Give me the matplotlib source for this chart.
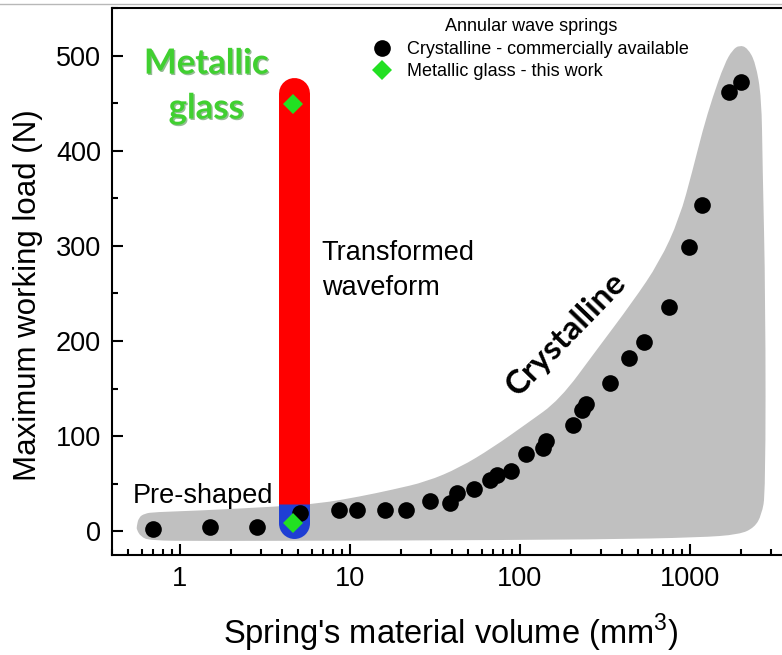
import numpy as np
import matplotlib
matplotlib.use("Agg")
import matplotlib.pyplot as plt
from matplotlib.lines import Line2D
from matplotlib.path import Path
from matplotlib.patches import PathPatch
from matplotlib.ticker import MultipleLocator, FuncFormatter, NullFormatter
import matplotlib.patheffects as pe

plt.rcParams['font.family'] = ['Liberation Sans', 'DejaVu Sans']
plt.rcParams['mathtext.fontset'] = 'custom'
plt.rcParams['mathtext.rm'] = 'Liberation Sans'

# commercially available crystalline annular wave springs
cryst_volume = [0.70, 1.5, 2.85, 5.08, 8.7, 11.0, 16.2, 21.5, 29.7, 39.0, 43.0, 54.0,
                66.6, 73.6, 89.4, 108.5, 138, 143, 206, 234, 247, 342, 440, 543,
                756, 991, 1188, 1718, 2014]
cryst_load = [2, 4.6, 4.6, 19.3, 22, 22.5, 22.5, 22.5, 32, 30, 40, 44.5,
              54, 59.5, 63, 81, 88, 95, 112, 127, 134, 156, 182, 199,
              236, 299, 343, 462, 472]

# metallic glass spring (pre-shaped and transformed waveform)
mg_volume = [4.65, 4.65]
mg_load = [8.8, 449.5]

# range bar of the metallic glass spring
bar_volume = 4.7
bar_top = 460.5
bar_split = 28.7
bar_bottom = 8.6

# grey envelope around the crystalline springs (outline control points)
env_volume = [0.559, 0.574, 0.622, 0.713, 1.311, 3.72, 6.66, 11.45, 17.9, 28.4, 44.4,
              69.4, 110, 172, 284, 462, 666, 873, 1041, 1193, 1366, 1607, 1790,
              1969, 2194, 2445, 2652, 2688, 2800, 2800, 2652, 2412, 1969, 1145,
              295, 19.7, 1.311, 0.666, 0.590, 0.559]
env_load = [4.9, 14.4, 18.6, 20.1, 21.7, 25.9, 29.1, 36.4, 43.7, 52.1, 66.8,
            87.8, 113, 138, 190.6, 241, 283, 329, 379, 421, 456, 491.5, 506,
            511, 508, 492.7, 456, 387, 243, 40, 17, 4.0, -3.5, -6.6,
            -8.7, -9.8, -10.3, -9.8, -5.6, 1.8]


def smooth_outline(xs, ys):
    # quadratic bezier through the mid points, built in log-x so it is smooth on screen
    lx = np.log10(xs)
    ys = np.asarray(ys, float)
    n = len(lx)
    mid = [((lx[i] + lx[(i + 1) % n]) / 2, (ys[i] + ys[(i + 1) % n]) / 2) for i in range(n)]
    verts = [mid[-1]]
    codes = [Path.MOVETO]
    for i in range(n):
        verts += [(lx[i], ys[i]), mid[i]]
        codes += [Path.CURVE3, Path.CURVE3]
    verts = np.array(verts)
    verts[:, 0] = 10 ** verts[:, 0]
    return Path(verts, codes)


fig = plt.figure(figsize=(7.82, 6.55), dpi=100)
ax = fig.add_axes([112 / 782, 100 / 655, 678 / 782, 547 / 655])

ax.add_patch(PathPatch(smooth_outline(env_volume, env_load), facecolor='#c0c0c0', lw=0, zorder=1))

bar_w = 22.3
ax.plot([bar_volume, bar_volume], [bar_top, bar_split], color='#ff0000', lw=bar_w,
        solid_capstyle='round', zorder=2)
ax.plot([bar_volume, bar_volume], [bar_split, bar_bottom], color='#1f3fd4', lw=bar_w,
        solid_capstyle='butt', zorder=3)
ax.plot([bar_volume], [bar_bottom], 'o', ms=bar_w, color='#1f3fd4', mew=0, zorder=3)

ax.plot(cryst_volume, cryst_load, 'o', ls='none', color='black', ms=12, mew=0, zorder=4,
        label='Crystalline - commercially available')
ax.plot(mg_volume, mg_load, 'D', ls='none', color='#22e022', ms=10.5, mew=0, zorder=5,
        label='Metallic glass - this work')

ax.set_xscale('log')
ax.set_xlim(0.4, 3900)
ax.set_ylim(-25, 550)
ax.yaxis.set_major_locator(MultipleLocator(100))
ax.yaxis.set_minor_locator(MultipleLocator(50))
ax.xaxis.set_major_formatter(FuncFormatter(lambda v, p: f'{v:g}'))
ax.xaxis.set_minor_formatter(NullFormatter())

ax.tick_params(which='both', direction='in', width=1.5, labelsize=19.5)
ax.tick_params(which='major', length=8, pad=8)
ax.tick_params(which='minor', length=4)
for s in ax.spines.values():
    s.set_linewidth(1.5)
ax.spines['right'].set_visible(False)

ax.set_xlabel("Spring's material volume (mm$^{\\mathregular{3}}$)", fontsize=23.5)
ax.set_ylabel("Maximum working load (N)", fontsize=22.5)
ax.xaxis.set_label_coords(0.5, -0.104)
ax.yaxis.set_label_coords(-0.102, 0.475)

leg = ax.legend(loc='upper center', bbox_to_anchor=(0.618, 1.004), title='Annular wave springs',
                frameon=False, fontsize=13, title_fontsize=13, handlelength=1.0,
                handletextpad=0.85, labelspacing=0.3, borderpad=0.2)

green_fx = [pe.withSimplePatchShadow(offset=(1, -1), shadow_rgbFace='#2a7a2a', alpha=0.5)]
ax.text(1.432, 481.0, 'Metallic', color='#40d030', fontsize=25, fontweight='bold',
        family=['Lato', 'DejaVu Sans'], ha='center', va='baseline', path_effects=green_fx)
ax.text(1.432, 433.8, 'glass', color='#40d030', fontsize=25, fontweight='bold',
        family=['Lato', 'DejaVu Sans'], ha='center', va='baseline', path_effects=green_fx)

ax.text(6.84, 285.0, 'Transformed', fontsize=19.5, ha='left', va='baseline')
ax.text(6.84, 248.3, 'waveform', fontsize=19.5, ha='left', va='baseline')
ax.text(0.53, 29.8, 'Pre-shaped', fontsize=19.5, ha='left', va='baseline')

ax.text(189, 207.4, 'Crystalline', fontsize=24, fontweight='bold', family=['Lato', 'DejaVu Sans'],
        rotation=46, rotation_mode='anchor', ha='center', va='center')

fig.add_artist(Line2D([0, 1], [1 - 4 / 655, 1 - 4 / 655], color='#b8b8b8', lw=1))

fig.savefig('out.png', dpi=100)
